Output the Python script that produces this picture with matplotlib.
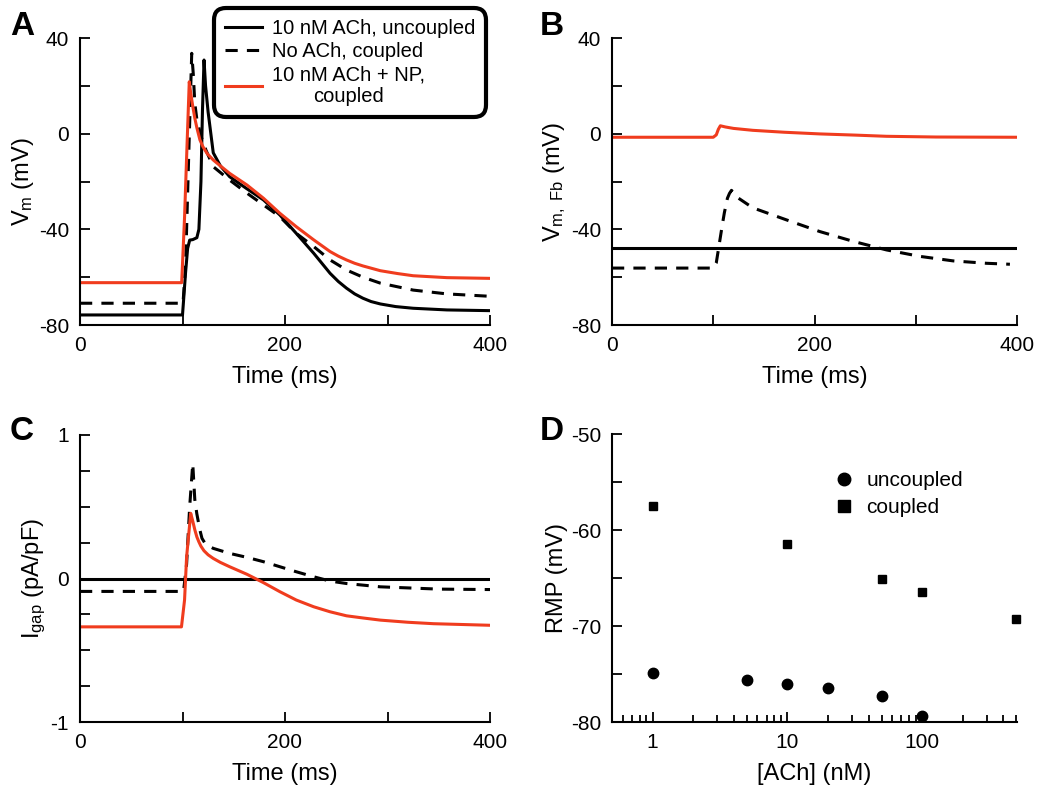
import numpy as np
import matplotlib
matplotlib.use('Agg')
from matplotlib import pyplot as plt
from matplotlib.ticker import MultipleLocator, LogLocator, NullFormatter, FixedLocator, FixedFormatter

plt.rcParams['font.family'] = ['Liberation Sans', 'DejaVu Sans']
plt.rcParams['mathtext.fontset'] = 'custom'
plt.rcParams['mathtext.rm'] = 'Liberation Sans'
plt.rcParams['mathtext.it'] = 'Liberation Sans'
plt.rcParams['axes.unicode_minus'] = False

RED = '#f03c1e'

# panel A: Vm traces (time ms, mV)
a_unc_t = [0, 100, 101, 103, 105, 107, 110, 114, 116, 118, 119.5, 121, 122.5, 125, 130, 137, 146, 162, 179, 195, 211, 228, 244, 252, 260, 268, 276, 284, 293, 308, 325, 358, 400]
a_unc_v = [-75.8, -75.8, -70, -58, -48, -44.5, -44.3, -43.5, -40, -20, 10, 30.8, 20, 9, -8, -13.5, -18, -22.8, -27.7, -34, -41.7, -50, -58.4, -61.8, -64.6, -67, -68.8, -70.2, -71.2, -72.3, -73, -73.7, -74]
a_noach_t = [0, 100.5, 103, 106, 109, 110.5, 112, 114, 118, 123, 130, 146, 163, 179, 195, 211, 228, 244, 260, 276, 293, 325, 358, 400]
a_noach_v = [-70.9, -70.9, -55, -10, 33.6, 25, 12.8, 6, -1, -7, -13.8, -19.4, -24.9, -29.8, -34.7, -41.7, -47.2, -52.8, -57, -60, -62.5, -65.4, -67, -68]
a_np_t = [0, 99.2, 102, 104, 106.6, 108, 110, 112, 114, 117, 120, 124, 130, 137, 146, 163, 179, 195, 211, 228, 244, 252, 260, 268, 276, 293, 310, 325, 358, 400]
a_np_v = [-62.3, -62.3, -35, -10, 21.7, 17, 11.5, 6.5, 2.5, -2.6, -5.5, -8.3, -11, -13.5, -16.6, -21.5, -27, -33.3, -38.9, -44.4, -49.3, -51.2, -52.8, -54.2, -55.3, -57.3, -58.5, -59.4, -60.2, -60.5]

# panel B: Vm, Fb
b_unc_t = [0, 400]
b_unc_v = [-47.9, -47.9]
b_noach_t = [0, 100, 103, 106, 109, 111, 114, 116, 118, 121, 125, 139, 172, 205, 238, 271, 304, 337, 370, 393]
b_noach_v = [-56.2, -56.2, -54, -46, -38, -33, -27, -25, -23.7, -25, -27, -31, -36, -40.9, -45, -48.6, -51.3, -53.2, -54.2, -54.6]
b_np_t = [0, 100, 103, 105, 107, 112, 120, 139, 170, 205, 240, 271, 320, 400]
b_np_v = [-1.5, -1.5, -0.5, 1.8, 3.3, 2.8, 2.2, 1.4, 0.6, -0.1, -0.6, -1.1, -1.4, -1.5]

# panel C: I_gap
c_unc_t = [0, 400]
c_unc_v = [0, 0]
c_noach_t = [0, 101, 104, 107, 110, 112, 114, 117, 119, 122, 126, 130, 146, 163, 179, 195, 211, 228, 244, 260, 293, 350, 400]
c_noach_v = [-0.09, -0.09, 0.1, 0.5, 0.80, 0.55, 0.45, 0.337, 0.28, 0.245, 0.225, 0.21, 0.175, 0.147, 0.117, 0.082, 0.047, 0.012, -0.018, -0.035, -0.058, -0.074, -0.077]
c_np_t = [0, 99, 102, 104, 108, 110, 112, 114, 116, 118, 121, 125, 130, 137, 146, 163, 179, 195, 211, 228, 244, 260, 276, 293, 320, 345, 400]
c_np_v = [-0.337, -0.337, -0.15, 0.15, 0.454, 0.40, 0.34, 0.29, 0.255, 0.225, 0.193, 0.165, 0.14, 0.112, 0.082, 0.029, -0.029, -0.092, -0.15, -0.197, -0.232, -0.26, -0.275, -0.29, -0.305, -0.315, -0.326]

# panel D: RMP vs [ACh]
d_unc_ach = [1, 5, 10, 20, 50, 100]
d_unc_rmp = [-74.9, -75.6, -76.0, -76.5, -77.3, -79.4]
d_cpl_ach = [1, 10, 50, 100, 500]
d_cpl_rmp = [-57.5, -61.5, -65.1, -66.5, -69.3]

fig = plt.figure(figsize=(10.5, 7.91), dpi=100)
W, H = 1050, 791


def add_ax(l, t, r, b):
    return fig.add_axes([l / W, 1 - b / H, (r - l) / W, (b - t) / H])


axA = add_ax(80, 38, 490, 325)
axB = add_ax(612, 38, 1017, 325)
axC = add_ax(80, 435, 490, 722)
axD = add_ax(612, 434, 1017, 722)

for ax in (axA, axB, axC, axD):
    for s in ('top', 'right'):
        ax.spines[s].set_visible(False)
    for s in ('left', 'bottom'):
        ax.spines[s].set_linewidth(1.5)
    ax.tick_params(direction='in', which='both', width=1.3, labelsize=15, pad=8)
    ax.tick_params(which='major', length=7)
    ax.tick_params(which='minor', length=7)

lw = 2.2
dash = (0, (4, 3))
axA.plot(a_unc_t, a_unc_v, color='black', lw=lw, label='10 nM ACh, uncoupled')
axA.plot(a_noach_t, a_noach_v, color='black', lw=lw, ls=dash, label='No ACh, coupled')
axA.plot(a_np_t, a_np_v, color=RED, lw=lw, label='10 nM ACh + NP,\ncoupled')

axB.plot(b_np_t, b_np_v, color=RED, lw=lw)
axB.plot(b_unc_t, b_unc_v, color='black', lw=lw)
axB.plot(b_noach_t, b_noach_v, color='black', lw=lw, ls=dash)

axC.plot(c_unc_t, c_unc_v, color='black', lw=lw)
axC.plot(c_noach_t, c_noach_v, color='black', lw=lw, ls=dash)
axC.plot(c_np_t, c_np_v, color=RED, lw=lw)

for ax in (axA, axB):
    ax.set_xlim(0, 400)
    ax.set_ylim(-80, 40)
    ax.yaxis.set_major_locator(MultipleLocator(40))
    ax.yaxis.set_minor_locator(MultipleLocator(20))
    ax.xaxis.set_major_locator(MultipleLocator(200))
    ax.xaxis.set_minor_locator(MultipleLocator(100))
    ax.set_xlabel('Time (ms)', fontsize=17, labelpad=8)

axC.set_xlim(0, 400)
axC.set_ylim(-1, 1)
axC.yaxis.set_major_locator(MultipleLocator(1))
axC.yaxis.set_minor_locator(MultipleLocator(0.25))
axC.xaxis.set_major_locator(MultipleLocator(200))
axC.xaxis.set_minor_locator(MultipleLocator(100))
axC.set_xlabel('Time (ms)', fontsize=17, labelpad=8)

axA.set_ylabel(r'V$_\mathrm{m}$ (mV)', fontsize=17, labelpad=2)
axB.set_ylabel(r'V$_\mathrm{m,\ Fb}$ (mV)', fontsize=17, labelpad=2)
axC.set_ylabel(r'I$_\mathrm{gap}$ (pA/pF)', fontsize=17, labelpad=2)

axD.plot(d_unc_ach, d_unc_rmp, 'o', color='black', ms=7.5, ls='none', label='uncoupled', clip_on=False)
axD.plot(d_cpl_ach, d_cpl_rmp, 's', color='black', ms=6, ls='none', label='coupled', clip_on=False)
axD.set_xscale('log')
axD.set_xlim(0.5, 505)
axD.set_ylim(-80, -50)
axD.yaxis.set_major_locator(MultipleLocator(10))
axD.yaxis.set_minor_locator(MultipleLocator(5))
axD.xaxis.set_major_locator(FixedLocator([1, 10, 100]))
axD.xaxis.set_major_formatter(FixedFormatter(['1', '10', '100']))
axD.xaxis.set_minor_locator(LogLocator(base=10, subs=np.arange(2, 10)))
axD.xaxis.set_minor_formatter(NullFormatter())
axD.tick_params(axis='x', which='minor', length=5)
axD.set_xlabel('[ACh] (nM)', fontsize=17, labelpad=8)
axD.set_ylabel('RMP (mV)', fontsize=17, labelpad=2)
legD = axD.legend(loc='upper left', bbox_to_anchor=(0.5, 0.9), frameon=False, fontsize=15,
                  handletextpad=0.1, labelspacing=0.4, borderaxespad=0)
for h in legD.legend_handles:
    h.set_markersize(9)

leg = axA.legend(loc='upper right', bbox_to_anchor=(482 / W, 1 - 12 / H), bbox_transform=fig.transFigure,
                 fontsize=14.5, handlelength=1.8, handletextpad=0.5, labelspacing=0.2,
                 borderpad=0.35, borderaxespad=0, fancybox=True, framealpha=1)
leg.get_frame().set_edgecolor('black')
leg.get_frame().set_linewidth(3)
leg.get_frame().set_boxstyle('round,pad=0.2,rounding_size=0.6')
for t in leg.get_texts():
    t.set_multialignment('center')

for lab, x, y in (('A', 10, 35), ('B', 540, 35), ('C', 10, 440), ('D', 540, 440)):
    fig.text(x / W, 1 - y / H, lab, fontsize=24, fontweight='bold')

fig.savefig('out.png', dpi=100)
